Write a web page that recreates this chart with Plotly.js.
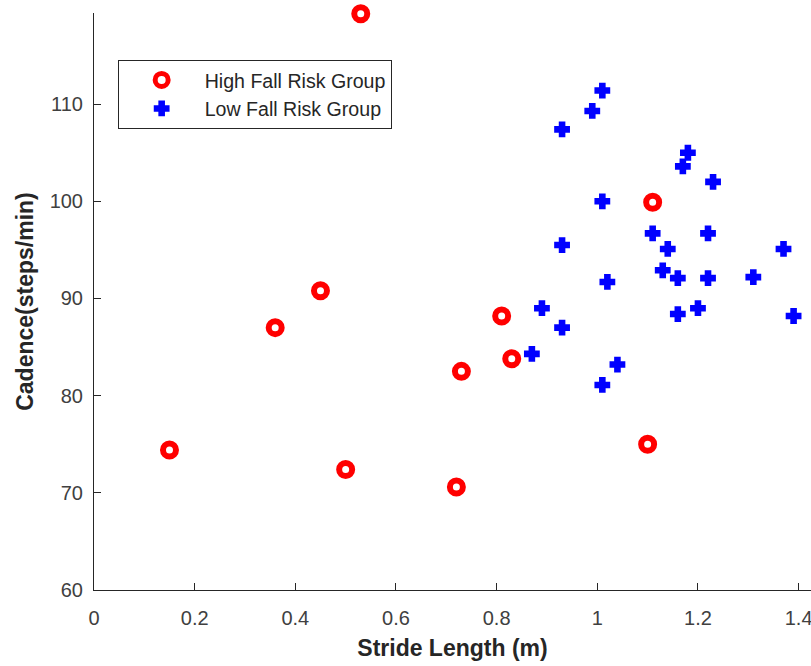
<!DOCTYPE html>
<html>
<head>
<meta charset="utf-8">
<script src="https://cdn.plot.ly/plotly-3.0.1.min.js"></script>
<style>html,body{margin:0;padding:0;background:#fff;}#chart{width:811px;height:666px;}</style>
</head>
<body>
<div id="chart"></div>
<script>
const seriesNames = ["High Fall Risk Group", "Low Fall Risk Group"];
const highStride = [0.15, 0.36, 0.45, 0.50, 0.72, 0.73, 0.81, 0.83, 0.53, 1.11, 1.10];
const highCadence = [74.4, 87.0, 90.8, 72.4, 70.6, 82.5, 88.2, 83.8, 119.3, 99.9, 75.0];
const lowStride = [1.01, 0.99, 0.93, 1.18, 1.17, 1.23, 1.01, 1.11, 1.22, 0.93, 1.14, 1.37, 1.13, 1.16, 1.22, 1.31, 1.02, 1.20, 1.16, 1.39, 0.89, 0.93, 0.87, 1.04, 1.01];
const lowCadence = [111.4, 109.3, 107.4, 105.0, 103.6, 102.0, 100.0, 96.7, 96.7, 95.5, 95.1, 95.1, 92.9, 92.1, 92.1, 92.2, 91.7, 89.0, 88.4, 88.2, 89.0, 87.0, 84.3, 83.2, 81.1];
const xTitle = "Stride Length (m)";
const yTitle = "Cadence(steps/min)";

const axisColor = "#262626";
const fontFam = "Liberation Sans, Arial, sans-serif";

const traces = [
  {
    type: "scatter", mode: "markers", name: seriesNames[0],
    x: highStride, y: highCadence, cliponaxis: false,
    marker: {symbol: "circle", size: 13, color: "#ffffff", line: {color: "#ff0000", width: 6}}
  },
  {
    type: "scatter", mode: "markers", name: seriesNames[1],
    x: lowStride, y: lowCadence, cliponaxis: false,
    marker: {symbol: "cross", size: 11.5, color: "#0000ff", line: {color: "#0000ff", width: 2}}
  }
];

const layout = {
  width: 811, height: 666,
  margin: {l: 94, r: 0, t: 13, b: 76},
  paper_bgcolor: "#ffffff", plot_bgcolor: "#ffffff",
  font: {family: fontFam, color: axisColor, size: 20},
  showlegend: true,
  xaxis: {
    range: [0, 1.4246], dtick: 0.2, tick0: 0,
    showgrid: false, zeroline: false,
    showline: true, linecolor: axisColor, linewidth: 1, mirror: false,
    ticks: "inside", ticklen: 7, tickcolor: axisColor, tickwidth: 1,
    tickfont: {family: fontFam, size: 20, color: "#404040"},
    ticklabelstandoff: 10, ticklabeloverflow: "allow",
    title: {text: xTitle, font: {family: fontFam, size: 23, color: "#262626", weight: "bold"}, standoff: 11},
    automargin: false
  },
  yaxis: {
    range: [60, 119.38], dtick: 10, tick0: 60,
    showgrid: false, zeroline: false,
    showline: true, linecolor: axisColor, linewidth: 1, mirror: false,
    ticks: "inside", ticklen: 7, tickcolor: axisColor, tickwidth: 1,
    tickfont: {family: fontFam, size: 20, color: "#404040"},
    ticklabelstandoff: 6,
    title: {text: yTitle, font: {family: fontFam, size: 23, color: "#262626", weight: "bold"}, standoff: 9},
    automargin: false
  },
  legend: {
    x: 0.033, y: 0.919, xanchor: "left", yanchor: "top",
    bgcolor: "#ffffff", bordercolor: axisColor, borderwidth: 1,
    font: {family: fontFam, size: 19.6, color: "#262626"},
    itemwidth: 76, tracegroupgap: 0
  }
};

Plotly.newPlot("chart", traces, layout, {displayModeBar: false, staticPlot: true});
</script>
</body>
</html>
